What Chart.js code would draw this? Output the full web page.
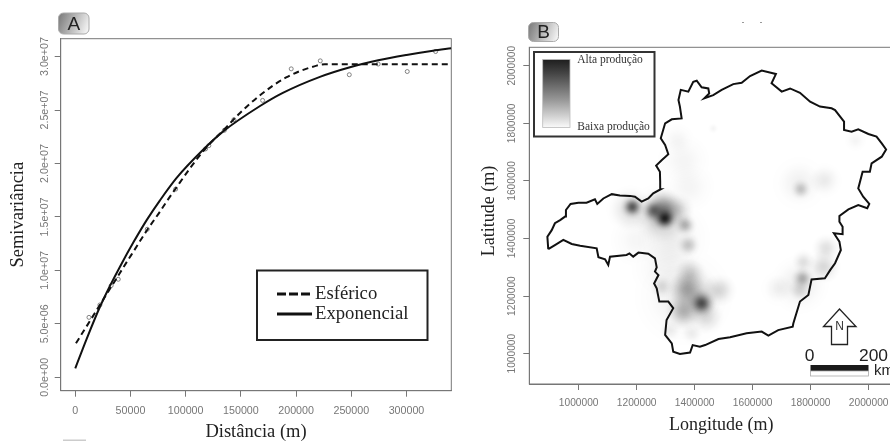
<!DOCTYPE html>
<html><head><meta charset="utf-8">
<style>
html,body{margin:0;padding:0;background:#fff;width:890px;height:441px;overflow:hidden}
canvas{position:absolute;top:0;filter:blur(.45px)}
#a{left:0}#b{left:470px}
</style>
<script src="https://cdn.jsdelivr.net/npm/chart.js@4"></script>
</head><body>
<canvas id="a" width="460" height="441"></canvas>
<canvas id="b" width="443" height="441"></canvas>
<script>
// Panel A : semivariogram
const lagDistance=[12400,22300,32500,38950,65220,90900,118000,121000,135000,143700,169700,195600,221900,248200,274400,300700,326400];
const semivariance=[5.61e6,6.77e6,8.58e6,9.17e6,13.85e6,17.6e6,21.36e6,21.67e6,23.1e6,24.1e6,25.9e6,28.85e6,29.6e6,28.3e6,29.3e6,28.6e6,30.47e6];
const exponentialX=[0,10330,22370,31430,40490,52540,64670,76720,91800,116000,134000,167000,188000,221600,248800,274400,300000,324000,340600];
const exponentialY=[0.84e6,3.6e6,6.6e6,8.55e6,10.35e6,12.6e6,14.7e6,16.55e6,18.65e6,21.3e6,23e6,25.35e6,26.6e6,28.1e6,29e6,29.65e6,30.15e6,30.55e6,30.78e6];
const sphericalX=[630,8000,16300,22370,31430,38950,43480,54080,65220,76720,82800,90900,105000,118000,135000,149000,167000,191000,218600,226000,340000];
const sphericalY=[3.18e6,4.4e6,5.77e6,6.78e6,8.28e6,9.52e6,10.27e6,11.99e6,13.8e6,15.5e6,16.45e6,17.65e6,19.7e6,21.4e6,23.2e6,24.7e6,26.35e6,28.05e6,29.15e6,29.28e6,29.28e6];
const xTicksA=[0,50000,100000,150000,200000,250000,300000];
const yTicksA=[0,5e6,1e7,1.5e7,2e7,2.5e7,3e7];
const yTickLabelsA=['0.0e+00','5.0e+06','1.0e+07','1.5e+07','2.0e+07','2.5e+07','3.0e+07'];
const seriesNames=['Esférico','Exponencial'];
// Panel B : production map (values in km, multiplied to metres when plotted)
const outlineLon=[895,892,907,918,936,953,956,972,999,1027,1056,1064,1085,1114,1142,1177,1194,1217,1240,1257,1283,1281,1280,1267,1286,1309,1298,1283,1298,1321,1355,1349,1344,1352,1378,1395,1407,1424,1447,1450,1433,1464,1493,1533,1562,1591,1631,1680,1665,1700,1729,1763,1798,1832,1872,1884,1915,1915,1941,1964,1999,2027,2045,2060,2045,2010,2004,1979,1964,1981,2002,1995,1964,1930,1899,1899,1910,1910,1880,1899,1904,1884,1867,1849,1803,1792,1763,1740,1738,1688,1654,1631,1579,1522,1482,1436,1418,1393,1384,1349,1326,1321,1298,1303,1326,1309,1278,1269,1260,1275,1263,1269,1263,1240,1206,1188,1175,1165,1108,1102,1091,1068,1062,1005,976,947,918,895];
const outlineLat=[1363,1406,1429,1453,1464,1476,1499,1520,1524,1524,1536,1520,1539,1554,1549,1548,1545,1528,1539,1557,1571,1597,1632,1653,1672,1693,1725,1748,1800,1814,1817,1858,1881,1916,1910,1944,1948,1925,1921,1904,1887,1898,1916,1936,1941,1964,1983,1971,1939,1910,1921,1906,1875,1858,1852,1846,1806,1777,1771,1779,1763,1754,1730,1709,1684,1661,1632,1632,1574,1545,1520,1505,1516,1501,1478,1458,1441,1415,1418,1389,1360,1314,1290,1262,1258,1204,1181,1105,1094,1082,1063,1077,1071,1057,1051,1030,1024,1030,1004,999,1007,1036,1065,1117,1158,1181,1181,1227,1244,1273,1285,1300,1331,1347,1351,1337,1348,1343,1337,1308,1328,1335,1366,1375,1381,1395,1377,1363];
const hotspotLon=[1297,1292,1285,1257,1185,1180,1367,1345,1378,1320,1424,1400,1372,1361,1286,1487,1441,1384,1390,1315,1360,1300,1766,1760,1846,1772,1760,1775,1853,1844,1763,1688,1953,1340,1361,1380,1200,1464];
const hotspotLat=[1470,1500,1480,1497,1510,1500,1447,1500,1377,1400,1175,1200,1227,1146,1233,1221,1128,1280,1071,1082,1200,1300,1571,1590,1603,1262,1240,1319,1366,1302,1222,1227,1742,1742,1672,1580,1395,1782];
const hotspotSpreadKm=[50,85,120,48,50,100,50,72,52,160,60,120,80,80,52,72,80,72,52,52,200,160,45,110,72,50,120,52,62,72,52,72,52,80,120,120,120,25];
const hotspotDensity=[.8,.4,.25,.45,.6,.14,.28,.13,.2,.07,.65,.18,.25,.25,.12,.15,.13,.18,.07,.07,.07,.04,.2,.06,.08,.28,.08,.12,.12,.15,.12,.06,.04,.04,.04,.04,.035,.04];
const mapTicks=[1000000,1200000,1400000,1600000,1800000,2000000];
const legendLabelsB=['Alta produção','Baixa produção'];

Chart.defaults.animation=false;
const SANS='"Liberation Sans", Arial, sans-serif', SERIF='"Liberation Serif", "Times New Roman", serif';
const GREY='#777';

function badge(c,x,y,w,h,letter){
  const g=c.createLinearGradient(x,y,x+w,y+h*.6);
  g.addColorStop(0,'#777');g.addColorStop(.55,'#bbb');g.addColorStop(1,'#f2f2f2');
  c.save();c.beginPath();c.roundRect(x,y,w,h,5);c.fillStyle=g;c.fill();
  c.strokeStyle='#aaa';c.lineWidth=1;c.stroke();
  c.fillStyle='#222';c.font='19px '+SANS;c.textAlign='center';c.textBaseline='middle';
  c.fillText(letter,x+w/2,y+h/2+1);c.restore();
}
function frame(chart){
  const a=chart.chartArea,c=chart.ctx;
  c.save();c.strokeStyle=GREY;c.lineWidth=1;c.strokeRect(a.left,a.top,a.right-a.left,a.bottom-a.top);c.restore();
}
function scaleOpts(min,max,extra){
  return Object.assign({type:'linear',min,max,
    border:{color:GREY,width:1},
    grid:{drawOnChartArea:false,drawTicks:true,tickLength:6,color:GREY}},extra);
}

const panelA={id:'panelA',
  beforeDatasetsDraw:frame,
  afterDraw(chart){
    const c=chart.ctx;c.save();
    badge(c,58.5,13,30.5,21,'A');
    c.strokeStyle='#222';c.lineWidth=2;c.fillStyle='#fff';
    c.fillRect(257,270.5,170.5,69.5);c.strokeRect(257,270.5,170.5,69.5);
    c.strokeStyle='#111';c.lineWidth=3;
    c.setLineDash([9,3]);c.beginPath();c.moveTo(277,294);c.lineTo(312,294);c.stroke();
    c.setLineDash([]);c.beginPath();c.moveTo(277,314);c.lineTo(312,314);c.stroke();
    c.fillStyle='#222';c.font='18.7px '+SERIF;c.textBaseline='middle';c.textAlign='left';
    c.fillText(seriesNames[0],315,294);c.fillText(seriesNames[1],315,314.5);
    c.fillStyle='#ccc';c.fillRect(63,439.5,23,1.5);
    c.restore();
  }};

new Chart(document.getElementById('a'),{
  type:'scatter',
  data:{datasets:[
    {label:seriesNames[0],data:sphericalX.map((x,i)=>({x,y:sphericalY[i]})),showLine:true,borderColor:'#111',borderWidth:2,borderDash:[6,4],pointRadius:0,cubicInterpolationMode:'monotone'},
    {label:seriesNames[1],data:exponentialX.map((x,i)=>({x,y:exponentialY[i]})),showLine:true,borderColor:'#111',borderWidth:2,pointRadius:0,cubicInterpolationMode:'monotone'},
    {label:'Semivariância',data:lagDistance.map((x,i)=>({x,y:semivariance[i]})),showLine:false,pointStyle:'circle',pointRadius:2,borderColor:'#666',borderWidth:.8,backgroundColor:'rgba(255,255,255,0)'}
  ]},
  options:{responsive:false,events:[],
    layout:{padding:{top:38.7,right:8.7,left:0,bottom:0},autoPadding:false},
    plugins:{legend:{display:false},tooltip:{enabled:false}},
    scales:{
      x:scaleOpts(-13200,340600,{
        afterFit(s){s.height=50.3},
        afterBuildTicks(s){s.ticks=xTicksA.map(value=>({value}))},
        ticks:{autoSkip:false,maxRotation:0,color:GREY,padding:8,font:{family:SANS,size:10.7},callback:v=>String(v)},
        title:{display:true,text:'Distância (m)',color:'#222',font:{family:SERIF,size:18.5,lineHeight:1},padding:{top:0,bottom:0}}}),
      y:scaleOpts(-1.25e6,3.167e7,{
        afterFit(s){s.width=60.7},
        afterBuildTicks(s){s.ticks=yTicksA.map(value=>({value}))},
        ticks:{autoSkip:false,minRotation:90,maxRotation:90,crossAlign:'center',color:GREY,padding:-10,font:{family:SANS,size:10.7},callback:v=>yTickLabelsA[yTicksA.indexOf(v)]},
        title:{display:true,text:'Semivariância',color:'#222',font:{family:SERIF,size:18.5,lineHeight:1},padding:{top:9,bottom:0}}})
    }},
  plugins:[panelA]
});

const spriteCache={};
function hotspotSprite(spreadKm,density){
  const r=Math.max(2,Math.round(spreadKm*.29)),key=r+'_'+density;
  if(spriteCache[key])return spriteCache[key];
  const cv=document.createElement('canvas');cv.width=cv.height=2*r;
  const c=cv.getContext('2d'),g=c.createRadialGradient(r,r,0,r,r,r);
  for(let i=0;i<=10;i++){const t=i/10;
    g.addColorStop(t,'rgba(0,0,0,'+(density*Math.exp(-4*t*t)*(1-t*t*t)).toFixed(4)+')');}
  c.fillStyle=g;c.fillRect(0,0,2*r,2*r);
  return spriteCache[key]=cv;
}
const panelB={id:'panelB',
  beforeDatasetsDraw:frame,
  afterDraw(chart){
    const c=chart.ctx,X=v=>v-470;c.save();
    badge(c,X(528.5),22.5,30,19,'B');
    c.fillStyle='#999';c.fillRect(X(742),22,2,1);c.fillRect(X(760),22,2,1);
    c.save();c.translate(19,211);c.rotate(-Math.PI/2);
    c.fillStyle='#222';c.font='18px '+SERIF;c.textAlign='center';c.textBaseline='middle';
    c.fillText('Latitude (m)',0,0);c.restore();
    c.strokeStyle='#333';c.lineWidth=2;c.fillStyle='#fff';
    c.fillRect(X(534),52,120.5,84.5);c.strokeRect(X(534),52,120.5,84.5);
    const g=c.createLinearGradient(0,59.5,0,127.5);
    g.addColorStop(0,'#1e1e1e');g.addColorStop(.2,'#444');g.addColorStop(.6,'#999');g.addColorStop(1,'#fafafa');
    c.fillStyle=g;c.fillRect(X(542.7),59.5,27.3,68);
    c.strokeStyle='#bbb';c.lineWidth=.8;c.strokeRect(X(542.7),59.5,27.3,68);
    c.fillStyle='#333';c.font='11.5px '+SERIF;c.textAlign='left';c.textBaseline='alphabetic';
    c.fillText(legendLabelsB[0],X(577.3),63);c.fillText(legendLabelsB[1],X(577.3),130);
    c.strokeStyle='#222';c.lineWidth=1.3;c.fillStyle='#fff';c.beginPath();
    [[839.5,309],[856,326.5],[847.5,326.5],[847.5,344.5],[831.5,344.5],[831.5,326.5],[823.5,326.5]].forEach((p,i)=>i?c.lineTo(X(p[0]),p[1]):c.moveTo(X(p[0]),p[1]));
    c.closePath();c.fill();c.stroke();
    c.fillStyle='#333';c.font='12px '+SANS;c.textAlign='center';c.textBaseline='middle';c.fillText('N',X(839.5),326.5);
    c.fillStyle='#1a1a1a';c.fillRect(X(810.5),365,58,6);
    c.strokeStyle='#aaa';c.lineWidth=.8;c.strokeRect(X(810.5),371,58,5);
    c.fillStyle='#222';c.font='17.4px '+SANS;c.textAlign='center';c.textBaseline='middle';
    c.fillText('0',X(809.7),356.5);c.fillText('200',X(873.5),356.5);
    c.font='15px '+SANS;c.textAlign='left';c.fillText('km',X(874),371);
    c.restore();
  }};

new Chart(document.getElementById('b'),{
  type:'scatter',
  data:{datasets:[
    {label:'Limite',order:1,data:outlineLon.map((x,i)=>({x:x*1000,y:outlineLat[i]*1000})),showLine:true,borderColor:'#111',borderWidth:2,pointRadius:0,tension:0},
    {label:'Produção',order:2,data:hotspotLon.map((x,i)=>({x:x*1000,y:hotspotLat[i]*1000})),showLine:false,pointRadius:10,borderWidth:0,
     pointStyle:ctx=>hotspotSprite(hotspotSpreadKm[ctx.dataIndex],hotspotDensity[ctx.dataIndex])}
  ]},
  options:{responsive:false,events:[],
    layout:{padding:{top:47.3,right:0,left:0,bottom:0},autoPadding:false},
    plugins:{legend:{display:false},tooltip:{enabled:false}},
    scales:{
      x:scaleOpts(829660,2152760,{
        afterFit(s){s.height=57},
        afterBuildTicks(s){s.ticks=mapTicks.map(value=>({value}))},
        ticks:{autoSkip:false,maxRotation:0,color:GREY,padding:7,font:{family:SANS,size:10.2},callback:v=>String(v)},
        title:{display:true,text:'Longitude (m)',color:'#222',font:{family:SERIF,size:18,lineHeight:1},padding:{top:0,bottom:7}}}),
      y:scaleOpts(894800,2063900,{
        afterFit(s){s.width=59.3},
        afterBuildTicks(s){s.ticks=mapTicks.map(value=>({value}))},
        ticks:{autoSkip:false,minRotation:90,maxRotation:90,crossAlign:'center',color:GREY,padding:-9,font:{family:SANS,size:10.2},callback:v=>String(v)}})
    }},
  plugins:[panelB]
});
</script>
</body></html>
